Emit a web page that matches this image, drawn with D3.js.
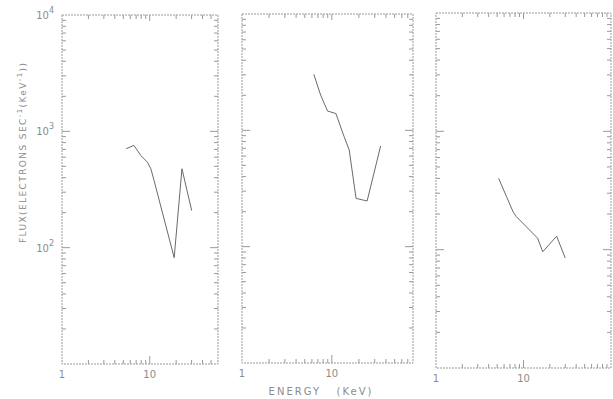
<!DOCTYPE html>
<html>
<head>
<meta charset="utf-8">
<script src="https://cdn.jsdelivr.net/npm/d3@7"></script>
<style>
  html, body { margin: 0; padding: 0; background: #fff; }
  svg { display: block; }
  text { font-family: "DejaVu Sans", sans-serif; fill: #8c8c8c; }
</style>
</head>
<body>
<svg id="chart" width="613" height="399"></svg>
<script>
// ---- data (energy in keV, flux in electrons sec^-1 keV^-1) ----
const energy1 = [5.4, 6.6, 7.9, 9.4, 10.3, 11.2, 19.0, 23.3, 30.1];
const flux1   = [710, 757, 621, 543, 477, 378, 82, 477, 208];

const energy2 = [6.3, 7.5, 8.95, 11.1, 13.7, 15.6, 18.6, 24.7, 34.9];
const flux2   = [3030, 2010, 1466, 1394, 881, 678, 260, 247, 733];

const energy3 = [5.2, 6.4, 7.6, 8.3, 14.5, 16.6, 23.9, 30.0];
const flux3   = [401, 280, 209, 190, 125, 96, 130, 85];

const xMax = [60, 80, 100];          // upper energy limit of each panel
const yDomain = [10, 10000];
const yTickExps = [4, 3, 2];         // labelled decades
const xTickLabels = ["1", "10"];
const yTitle = "FLUX(ELECTRONS SEC";
const xTitle = "ENERGY   (KeV)";

const series = [
  {e: energy1, f: flux1},
  {e: energy2, f: flux2},
  {e: energy3, f: flux3}
];

// ---- layout ----
const frames = [
  {x0: 62,  x1: 218, y0: 15, y1: 364},
  {x0: 242, x1: 413, y0: 14, y1: 363},
  {x0: 436, x1: 611, y0: 13, y1: 368}
];

const svg = d3.select("#chart");
const frameColor = "#9a9a9a";

function minorTicks(lo, hi) {
  const out = [];
  for (let d = lo; d < hi; d *= 10) {
    for (let m = 1; m <= 9; m++) {
      const v = m * d;
      if (v > lo && v < hi) out.push(v);
    }
  }
  return out;
}

frames.forEach((fr, i) => {
  const x = d3.scaleLog().domain([1, xMax[i]]).range([fr.x0, fr.x1]);
  const y = d3.scaleLog().domain(yDomain).range([fr.y1, fr.y0]);
  const g = svg.append("g");

  // frame
  g.append("rect")
    .attr("x", fr.x0).attr("y", fr.y0)
    .attr("width", fr.x1 - fr.x0).attr("height", fr.y1 - fr.y0)
    .attr("fill", "none").attr("stroke", frameColor).attr("stroke-width", 1)
    .attr("stroke-dasharray", "2,1");

  // x ticks (bottom pointing up, top pointing down)
  const xt = minorTicks(1, xMax[i]);
  xt.forEach(v => {
    const major = Math.abs(Math.log10(v) - Math.round(Math.log10(v))) < 1e-9;
    const xp = x(v);
    g.append("line").attr("x1", xp).attr("x2", xp)
      .attr("y1", fr.y1).attr("y2", fr.y1 - (major ? 8 : 4))
      .attr("stroke", frameColor);
    g.append("line").attr("x1", xp).attr("x2", xp)
      .attr("y1", fr.y0).attr("y2", fr.y0 + (major ? 6 : 4))
      .attr("stroke", frameColor);
  });

  // y ticks (left pointing right, right pointing left)
  const yt = minorTicks(10, 10000);
  yt.forEach(v => {
    const major = Math.abs(Math.log10(v) - Math.round(Math.log10(v))) < 1e-9;
    const yp = y(v);
    const len = major ? 8 : 4;
    g.append("line").attr("x1", fr.x0).attr("x2", fr.x0 + len)
      .attr("y1", yp).attr("y2", yp).attr("stroke", frameColor);
    g.append("line").attr("x1", fr.x1).attr("x2", fr.x1 - len)
      .attr("y1", yp).attr("y2", yp).attr("stroke", frameColor);
  });

  // x tick labels
  [1, 10].forEach((v, k) => {
    g.append("text").attr("x", x(v)).attr("y", fr.y1 + 14)
      .attr("text-anchor", "middle").attr("font-size", 10)
      .text(xTickLabels[k]);
  });

  // data line
  const s = series[i];
  const pts = s.e.map((e, k) => [x(e), y(s.f[k])]);
  g.append("path").attr("d", d3.line()(pts))
    .attr("fill", "none").attr("stroke", "#6a6a6a").attr("stroke-width", 1);

  // y tick labels only on the first panel
  if (i === 0) {
    yTickExps.forEach(p => {
      const yp = y(Math.pow(10, p));
      const t = g.append("text").attr("x", fr.x0 - 8).attr("y", yp + 4)
        .attr("text-anchor", "end").attr("font-size", 10);
      t.append("tspan").text("10");
      t.append("tspan").attr("dy", -6).attr("font-size", 8).text(String(p));
    });
  }
});

// y axis title
const yt = svg.append("text")
  .attr("transform", "translate(26,243) rotate(-90)")
  .attr("font-size", 9).attr("letter-spacing", 1.4);
yt.append("tspan").text(yTitle);
yt.append("tspan").attr("dy", -4).attr("font-size", 7).text("-1");
yt.append("tspan").attr("dy", 4).text("(KeV");
yt.append("tspan").attr("dy", -4).attr("font-size", 7).text("-1");
yt.append("tspan").attr("dy", 4).text("))");

// x axis title
svg.append("text").attr("x", 321).attr("y", 395)
  .attr("text-anchor", "middle").attr("font-size", 10)
  .attr("letter-spacing", 2)
  .attr("xml:space", "preserve").style("white-space", "pre")
  .text(xTitle);
</script>
</body>
</html>
